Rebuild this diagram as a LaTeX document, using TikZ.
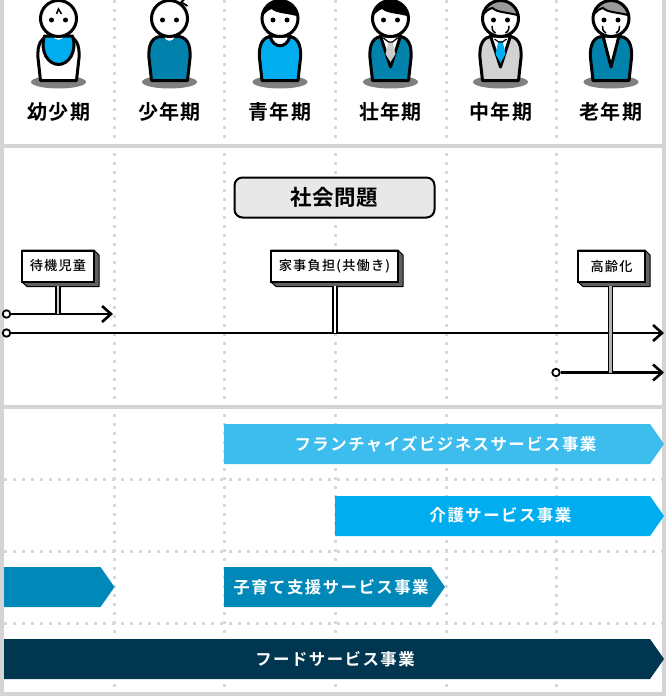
\documentclass[tikz,border=0pt]{standalone}
\usepackage{fontspec}
\setmainfont{Noto Sans CJK JP}
\newfontfamily\agejp[LetterSpace=6]{Noto Sans CJK JP Bold}
\newfontfamily\titlejp[LetterSpace=3]{Noto Sans CJK JP Bold}
\newfontfamily\signjp[LetterSpace=9]{Noto Sans CJK JP Medium}
\newfontfamily\bandjp[LetterSpace=9]{Noto Sans CJK JP Bold}
\usetikzlibrary{arrows.meta}
\definecolor{cyanA}{HTML}{3CBDEE}
\definecolor{cyanB}{HTML}{00AEEF}
\definecolor{blueC}{HTML}{0088B9}
\definecolor{navyD}{HTML}{00364F}
\definecolor{suitblue}{HTML}{0082AC}
\definecolor{hairgray}{HTML}{999999}
\definecolor{suitgray}{HTML}{D2D2D2}
\definecolor{framegray}{HTML}{D4D4D4}
\definecolor{dotgray}{HTML}{D8D8D8}
\tikzset{
 ink/.style={draw=black,line width=3pt,line join=round},
 dotline/.style={dotgray,line width=3pt,dash pattern=on 3pt off 6pt},
 agelabel/.style={font=\agejp\fontsize{20}{20}\selectfont,inner sep=0pt},
 signlabel/.style={draw=black,line width=2pt,fill=white,inner sep=0pt,
  font=\signjp\fontsize{13.2}{13.2}\selectfont,minimum height=31pt},
 signshadow/.style={fill=black!62,draw=black,line width=1pt,line join=round},
 timeline/.style={black,line width=2.8pt,-{Straight Barb[length=9pt,width=16pt,line width=2.6pt]}},
 startdot/.style={circle,draw=black,line width=1.8pt,fill=white,inner sep=0pt,minimum size=7.5pt},
 bandlabel/.style={text=white,font=\bandjp\fontsize{16.4}{16.4}\selectfont,inner sep=0pt}
}
% body x-offset is taken from the surrounding scope
\newcommand{\shadowbody}[1]{
 \fill[black!50] (0,82) ellipse (27.5 and 6.5);
 \path[ink,fill=#1] (-18,80.5) -- (18,80.5) -- (20.5,58)
  .. controls (21.5,44) and (17,36.5) .. (8,36.5) -- (-8,36.5)
  .. controls (-17,36.5) and (-21.5,44) .. (-20.5,58) -- cycle;
}
\newcommand{\headdisc}{\fill[white] (0,18.5) circle (18);}
\newcommand{\headring}{
 \draw[black,line width=3pt] (0,18.5) circle (18);
 \fill (-7,20) circle (2.5);
 \fill (7,20) circle (2.5);
}
\newcommand{\hairpart}[1]{
 \begin{scope}
 \clip (0,18.5) circle (18);
 \path[#1,draw=black,line width=2pt] (-20,18) .. controls (-15,11) and (-12,9) .. (-8,8)
  .. controls (-3,13) and (8,12) .. (20,16) -- (20,-3) -- (-20,-3) -- cycle;
 \end{scope}
}
\newcommand{\oldlines}{
 \draw[black,line width=1.5pt] (-5,33) .. controls (-8,31) and (-9,29) .. (-8.5,26);
 \draw[black,line width=1.5pt] (5,33) .. controls (8,31) and (9,29) .. (8.5,26);
}
\newcommand{\band}[4]{
 \fill[#4] (#1,#3) -- (#2-14,#3) -- (#2,#3+20) -- (#2-14,#3+40) -- (#1,#3+40) -- cycle;
}
\newcommand{\signback}[4]{
 \path[signshadow] (#1,#3) -- (#2,#3) -- (#2+5,#3+5) -- (#2+5,#4+4.5) -- (#1+5,#4+4.5) -- (#1,#4) -- cycle;
}
\begin{document}
\begin{tikzpicture}[x=1pt,y=-1pt]
 \useasboundingbox (0,0) rectangle (666,696);
 \fill[white] (0,0) rectangle (666,696);
 % grid
 \foreach \gx in {114,224,335,446,556}
  \draw[dotline] (\gx,0) -- (\gx,690);
 \foreach \gy in {479,551,623}
  \draw[dotline] (4,\gy) -- (662,\gy);
 % frame
 \fill[framegray] (0,0) rectangle (4,696);
 \fill[framegray] (662,0) rectangle (666,696);
 \fill[framegray] (0,144) rectangle (666,148);
 \fill[framegray] (0,405) rectangle (666,409);
 \fill[framegray] (0,692) rectangle (666,696);
 % people
 \begin{scope}[xshift=58.5pt]
  \shadowbody{white}
  \path[ink,fill=cyanB] (-14,36) .. controls (-19,52) and (-10,64.5) .. (0,64.5)
   .. controls (10,64.5) and (19,52) .. (14,36) -- cycle;
  \fill[white] (-5,36) -- (5,36) .. controls (4,41) and (-4,41) .. (-5,36) -- cycle;
  \headdisc
  \headring
  \draw[black,line width=1.5pt] (-2,14) -- (0,9) -- (3,14);
 \end{scope}
 \begin{scope}[xshift=169.5pt]
  \shadowbody{suitblue}
  \fill[white] (-5,37) -- (5,37) .. controls (4,42) and (-4,42) .. (-5,37) -- cycle;
  \headdisc
  \headring
  \draw[black,line width=1.8pt] (11,3) -- (15,-1) (13,3) -- (18,6);
 \end{scope}
 \begin{scope}[xshift=280pt]
  \shadowbody{cyanB}
  \path[ink,fill=white] (-10,36) .. controls (-7,49) and (7,49) .. (10,36) -- cycle;
  \headdisc
  \hairpart{fill=black}
  \headring
 \end{scope}
 \begin{scope}[xshift=390.5pt]
  \shadowbody{suitblue}
  \path[ink,fill=white] (-10,36) -- (0,67) -- (10,36) -- cycle;
  \fill[black!20] (-2,42) -- (2,42) -- (5,54) -- (0,62) -- (-5,54) -- cycle;
  \draw[black,line width=1.2pt] (-7,38) -- (-2,42) -- (2,42) -- (7,38);
  \headdisc
  \hairpart{fill=black}
  \headring
 \end{scope}
 \begin{scope}[xshift=500.5pt]
  \shadowbody{suitgray}
  \path[ink,fill=white] (-10,36) -- (0,67) -- (10,36) -- cycle;
  \fill[cyanB] (-2,41) -- (2,41) -- (5,54) -- (0,63) -- (-5,54) -- cycle;
  \draw[black,line width=1.2pt] (-6,39) -- (-2,42) -- (2,42) -- (6,39);
  \headdisc
  \hairpart{fill=hairgray}
  \headring
  \oldlines
 \end{scope}
 \begin{scope}[xshift=611pt]
  \shadowbody{suitblue}
  \path[ink,fill=white] (-8,36) -- (0,67) -- (8,36) -- cycle;
  \headdisc
  \hairpart{fill=hairgray}
  \headring
  \oldlines
 \end{scope}
 % age labels
 \node[agelabel] (youji) at (59,112) {幼少期};
 \node[agelabel] (shounen) at (169.5,112) {少年期};
 \node[agelabel] (seinen) at (280,112) {青年期};
 \node[agelabel] (sounen) at (390.5,112) {壮年期};
 \node[agelabel] (chuunen) at (501,112) {中年期};
 \node[agelabel] (rounen) at (611,112) {老年期};
 % title
 \node[draw=black,line width=2pt,fill=black!9,rounded corners=8pt,minimum width=200pt,
  minimum height=40pt,inner sep=0pt,font=\titlejp\fontsize{21.5}{21.5}\selectfont]
  (mondai) at (334.5,197.5) {社会問題};
 % lines
 \node[startdot] (startA) at (6.5,314) {};
 \node[startdot] (startB) at (6.5,333) {};
 \node[startdot] (startC) at (556,372.5) {};
 \coordinate (endA) at (113,314);
 \coordinate (endB) at (664,333);
 \coordinate (endC) at (664,372.5);
 \draw[timeline] (startA) -- (endA);
 \draw[timeline,line width=2.2pt] (startB) -- (endB);
 \draw[timeline] (startC) -- (endC);
 % signs
 \signback{22}{94}{250}{282}
 \signback{271}{398}{250}{282}
 \signback{578}{645}{250}{282}
 \coordinate (footA) at (58,314);
 \coordinate (footB) at (335,333);
 \coordinate (footC) at (610.5,372.5);
 \node[signlabel,minimum width=72pt] (taiki) at (58,266) {待機児童};
 \node[signlabel,minimum width=127pt] (kaji) at (334.5,266) {家事負担(共働き)};
 \node[signlabel,minimum width=67pt] (koreika) at (611.5,266) {高齢化};
 \foreach \sg/\ft/\wa/\wb/\tn in {taiki/footA/5.6/2.8/20,kaji/footB/5.2/2.0/0,koreika/footC/5.6/2.8/30}{
  \draw[black,line width=\wa pt] (\sg.south -| \ft) ++(0,3) -- (\ft);
  \draw[black!\tn,line width=\wb pt] (\sg.south -| \ft) ++(0,3) -- (\ft);
 }
 % services
 \band{224}{664}{424}{cyanA}
 \node[bandlabel] (fc) at (445.5,444) {フランチャイズビジネスサービス事業};
 \band{335}{664}{496}{cyanB}
 \node[bandlabel] (kaigo) at (500.5,515.5) {介護サービス事業};
 \band{4}{114.5}{567}{blueC}
 \band{224}{445}{567}{blueC}
 \node[bandlabel] (kosodate) at (331,587) {子育て支援サービス事業};
 \band{4}{664}{639}{navyD}
 \node[bandlabel] (food) at (335,659) {フードサービス事業};
\end{tikzpicture}
\end{document}
